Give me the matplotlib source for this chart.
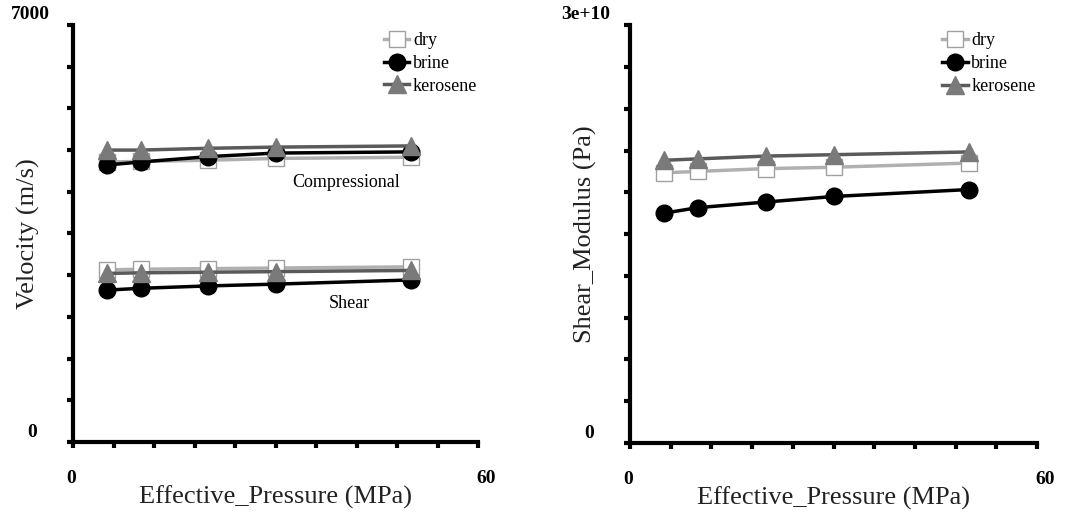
import matplotlib
matplotlib.use("Agg")
import matplotlib.pyplot as plt

plt.rcParams['font.family'] = ['Liberation Serif', 'DejaVu Serif']

# data
pressure = [5, 10, 20, 30, 50]

vp_dry = [4700, 4710, 4730, 4760, 4780]
vp_brine = [4650, 4700, 4790, 4850, 4870]
vp_kero = [4900, 4900, 4930, 4950, 4970]

vs_dry = [2890, 2900, 2910, 2920, 2940]
vs_brine = [2550, 2580, 2620, 2650, 2720]
vs_kero = [2830, 2840, 2850, 2860, 2880]

mu_dry = [1.94e10, 1.95e10, 1.97e10, 1.98e10, 2.01e10]
mu_brine = [1.65e10, 1.69e10, 1.73e10, 1.77e10, 1.82e10]
mu_kero = [2.03e10, 2.04e10, 2.06e10, 2.07e10, 2.09e10]

fluids = ['dry', 'brine', 'kerosene']

styles = {
    'dry': dict(color='#b0b0b0', marker='s', markersize=11, markerfacecolor='white',
                markeredgecolor='#a0a0a0', markeredgewidth=1.0, linewidth=2.5),
    'brine': dict(color='black', marker='o', markersize=12, markerfacecolor='black',
                  markeredgecolor='black', linewidth=2.5),
    'kerosene': dict(color='#5a5a5a', marker='^', markersize=13, markerfacecolor='#7a7a7a',
                     markeredgecolor='#7a7a7a', linewidth=2.5),
}


def style_axes(ax, xmax, ymax, ylabel, ytop_label, ylab_x):
    ax.set_xlim(0, xmax)
    ax.set_ylim(0, ymax)
    for s in ['top', 'right']:
        ax.spines[s].set_visible(False)
    for s in ['left', 'bottom']:
        ax.spines[s].set_linewidth(3)
    ax.set_xticks([xmax * i / 10 for i in range(11)])
    ax.set_yticks([ymax * i / 10 for i in range(11)])
    ax.set_xticklabels([])
    ax.set_yticklabels([])
    ax.tick_params(direction='out', length=4, width=3, color='black')
    # endpoint labels
    ax.text(ylab_x, 1.005, ytop_label, transform=ax.transAxes, ha='center', va='bottom',
            fontsize=14, fontweight='bold')
    ax.text(-0.1, 0.022, '0', transform=ax.transAxes, ha='center', va='center',
            fontsize=14, fontweight='bold')
    ax.text(-0.005, -0.087, '0', transform=ax.transAxes, ha='center', va='center',
            fontsize=14, fontweight='bold')
    ax.text(1.02, -0.087, '60', transform=ax.transAxes, ha='center', va='center',
            fontsize=14, fontweight='bold')
    ax.set_xlabel('Effective_Pressure (MPa)', fontsize=19, labelpad=24, color='#222222')
    ax.set_ylabel(ylabel, fontsize=19, labelpad=16, color='#222222')
    ax.legend(loc='upper left', bbox_to_anchor=(0.75, 1.0), frameon=False, fontsize=13,
              handlelength=1.4, handletextpad=0.2, labelspacing=0.32, borderaxespad=0)


fig = plt.figure(figsize=(10.66, 5.12), dpi=100)
ax1 = fig.add_axes([0.0685, 0.1367, 0.380, 0.8145])
ax2 = fig.add_axes([0.591, 0.1348, 0.3818, 0.816])

# velocity panel
for fl, vp, vs in zip(fluids, [vp_dry, vp_brine, vp_kero], [vs_dry, vs_brine, vs_kero]):
    ax1.plot(pressure, vp, label=fl, **styles[fl])
    ax1.plot(pressure, vs, **styles[fl])
ax1.text(40.5, 4350, 'Compressional', ha='center', va='center', fontsize=13)
ax1.text(41, 2330, 'Shear', ha='center', va='center', fontsize=13)
style_axes(ax1, 60, 7000, 'Velocity (m/s)', '7000', -0.105)

# shear modulus panel
for fl, mu in zip(fluids, [mu_dry, mu_brine, mu_kero]):
    ax2.plot(pressure, mu, label=fl, **styles[fl])
style_axes(ax2, 60, 3e10, 'Shear_Modulus (Pa)', '3e+10', -0.11)

fig.savefig('out.png', dpi=100)
